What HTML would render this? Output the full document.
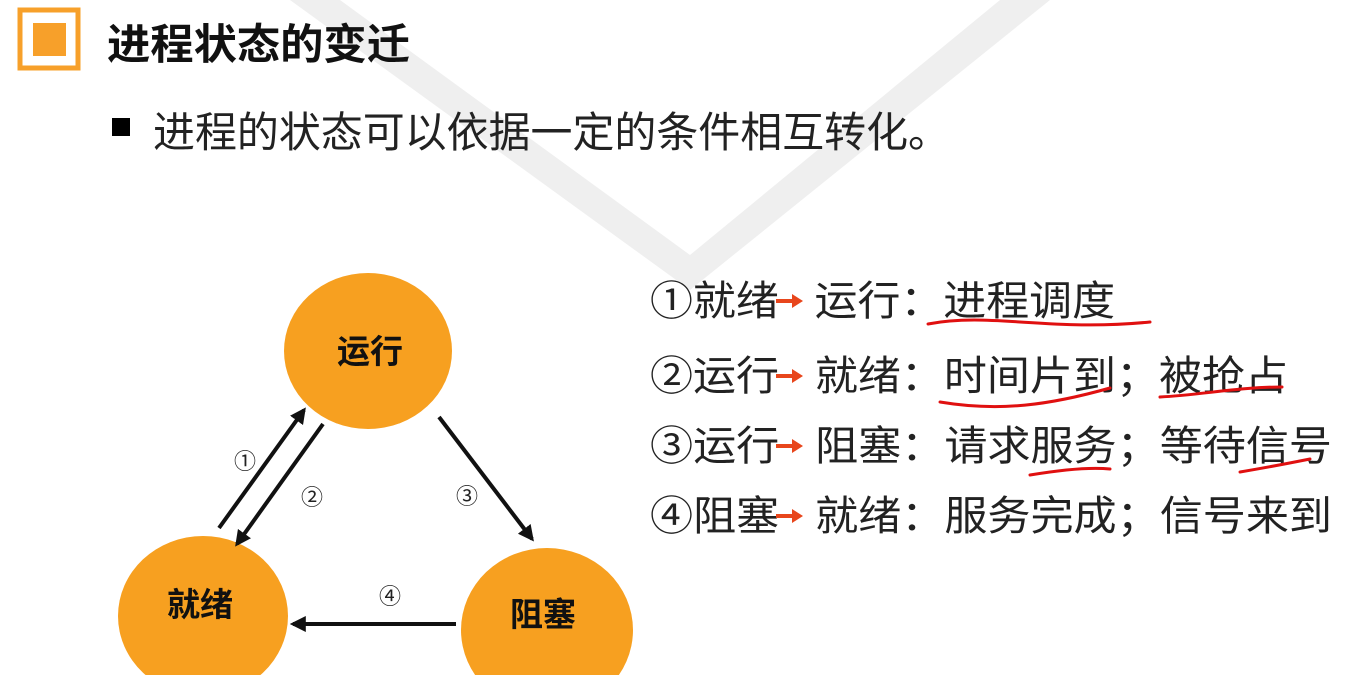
<!DOCTYPE html>
<html><head><meta charset="utf-8"><style>
html,body{margin:0;padding:0;background:#fff;width:1351px;height:675px;overflow:hidden}
svg{display:block}
text{font-family:"Liberation Sans","Noto Sans CJK SC",sans-serif}
</style></head><body>
<svg width="1351" height="675" viewBox="0 0 1351 675" xmlns="http://www.w3.org/2000/svg">
<defs>
<marker id="ah" viewBox="0 0 10 10" refX="8" refY="5" markerWidth="4" markerHeight="4" orient="auto"><path d="M0,0 L10,5 L0,10 z" fill="#111"/></marker>
</defs>
<polygon points="290,0 340,0 690,255 1000,0 1050,0 690,290" fill="#efefef"/>
<rect x="20" y="10" width="58" height="58" fill="#fff" stroke="#f7a02a" stroke-width="5"/>
<rect x="33" y="23" width="33" height="33" fill="#f7a02a"/>
<text x="107" y="59" font-size="42" font-weight="bold" fill="#111" textLength="303" lengthAdjust="spacingAndGlyphs">进程状态的变迁</text>
<rect x="112" y="118" width="18" height="18" fill="#000"/>
<text x="153" y="147" font-size="42" fill="#222" textLength="797" lengthAdjust="spacingAndGlyphs">进程的状态可以依据一定的条件相互转化。</text>
<ellipse cx="368" cy="351" rx="84" ry="78" fill="#f7a020"/>
<ellipse cx="203" cy="616" rx="85" ry="80" fill="#f7a020"/>
<ellipse cx="547" cy="630" rx="86" ry="82" fill="#f7a020"/>
<text x="370" y="363" font-size="33" font-weight="bold" text-anchor="middle" fill="#111">运行</text>
<text x="200" y="616" font-size="33" font-weight="bold" text-anchor="middle" fill="#111">就绪</text>
<text x="543" y="626" font-size="33" font-weight="bold" text-anchor="middle" fill="#111">阻塞</text>
<g stroke="#111" stroke-width="4" marker-end="url(#ah)">
<line x1="219" y1="528" x2="304" y2="410"/>
<line x1="323" y1="424" x2="237" y2="544"/>
<line x1="439" y1="417" x2="532" y2="539"/>
<line x1="456" y1="624" x2="293" y2="624"/>
</g>
<g font-size="22" text-anchor="middle" fill="#222">
<text x="245" y="469">①</text>
<text x="312" y="505">②</text>
<text x="467" y="504">③</text>
<text x="390" y="604">④</text>
</g>
<g font-size="41" fill="#222" lengthAdjust="spacingAndGlyphs">
<text x="650" y="315" textLength="465" lengthAdjust="spacingAndGlyphs">①就绪 &#160;&#160;运行：进程调度</text>
<text x="650" y="390" textLength="638" lengthAdjust="spacingAndGlyphs">②运行 &#160;&#160;就绪：时间片到；被抢占</text>
<text x="650" y="460" textLength="682" lengthAdjust="spacingAndGlyphs">③运行 &#160;&#160;阻塞：请求服务；等待信号</text>
<text x="650" y="530" textLength="682" lengthAdjust="spacingAndGlyphs">④阻塞 &#160;&#160;就绪：服务完成；信号来到</text>
</g>
<g fill="#e8461c">
<g transform="translate(776,301)"><rect x="0" y="-2" width="18" height="4"/><path d="M16,-7 L27,0 L16,7 z"/></g>
<g transform="translate(776,376)"><rect x="0" y="-2" width="18" height="4"/><path d="M16,-7 L27,0 L16,7 z"/></g>
<g transform="translate(776,446)"><rect x="0" y="-2" width="18" height="4"/><path d="M16,-7 L27,0 L16,7 z"/></g>
<g transform="translate(776,516)"><rect x="0" y="-2" width="18" height="4"/><path d="M16,-7 L27,0 L16,7 z"/></g>
</g>
<g fill="none" stroke="#e01010" stroke-width="3" stroke-linecap="round">
<path d="M928,324 C990,312 1050,332 1150,322"/>
<path d="M940,402 C1000,412 1050,405 1110,388"/>
<path d="M1160,397 C1200,395 1240,387 1282,387"/>
<path d="M1030,475 C1060,470 1090,467 1110,469"/>
<path d="M1240,472 C1270,467 1290,463 1310,459"/>
</g>
</svg>
</body></html>
